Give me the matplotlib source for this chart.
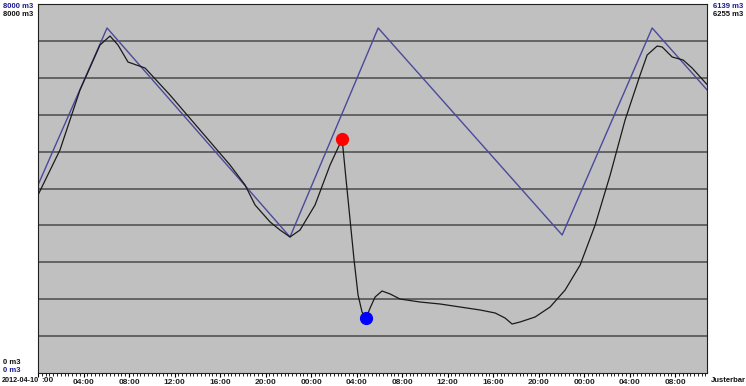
import matplotlib
matplotlib.use("Agg")
import matplotlib.pyplot as plt
import numpy as np

# ---- data (hours since 2012-04-10 00:00, values in m3) ----
blue_hours = [0, 6.07, 22.15, 29.9, 46.07, 53.98, 58.8]
blue_values = [4076, 7480, 2949, 7480, 2992, 7480, 6139]

black_hours = [0, 1.93, 3.69, 5.45, 6.33, 7.03, 7.91, 9.41, 11.6, 14.24, 16.88, 18.2,
               19.08, 20.4, 21.27, 22.15, 23.03, 24.35, 25.67, 26.73, 27.08, 27.43,
               27.78, 28.13, 28.48, 28.84, 29.19, 29.63, 30.24, 30.95, 31.82, 33.58,
               35.34, 37.1, 38.86, 40.18, 41.05, 41.67, 42.37, 43.69, 45.01, 46.33,
               47.65, 48.97, 50.29, 51.6, 52.92, 53.54, 54.42, 54.86, 55.74, 56.7,
               57.49, 58.8]
black_values = [3859, 4835, 6135, 7111, 7306, 7111, 6742, 6612, 6027, 5268, 4509, 4076,
                3642, 3274, 3100, 2949, 3100, 3642, 4509, 5073, 4184, 3317,
                2450, 1691, 1322, 1192, 1409, 1648, 1778, 1713, 1604, 1539,
                1496, 1431, 1366, 1301, 1192, 1062, 1106, 1214, 1431, 1799,
                2341, 3209, 4293, 5485, 6461, 6894, 7089, 7068, 6851, 6786,
                6612, 6255]

max_point = (26.73, 5073)
min_point = (28.84, 1192)

tick_hours = [0, 4, 8, 12, 16, 20, 24, 28, 32, 36, 40, 44, 48, 52, 56]
tick_labels = [":00", "04:00", "08:00", "12:00", "16:00", "20:00", "00:00", "04:00",
               "08:00", "12:00", "16:00", "20:00", "00:00", "04:00", "08:00"]

y_max = 8000
x_max = 58.8

BLUE = "#4a4a9c"
TXT_BLUE = "#1c1c8c"
FONT = ["Liberation Sans", "DejaVu Sans"]

fig = plt.figure(figsize=(7.46, 3.86), dpi=100)
fig.patch.set_facecolor("white")
ax = fig.add_axes([38 / 746, 13 / 386, (707 - 38) / 746, (373 - 4) / 386])
ax.set_facecolor("#c0c0c0")

ax.set_xlim(0, x_max)
ax.set_ylim(0, y_max)

for v in np.arange(800, y_max, 800):
    ax.axhline(v, color="#4a4a4a", lw=1.1, zorder=1)

ax.plot(blue_hours, blue_values, color=BLUE, lw=1.0, zorder=2)
ax.plot(black_hours, black_values, color="#1a1a1a", lw=0.9, zorder=3)
ax.plot([max_point[0]], [max_point[1]], "o", color="#ff0000", ms=8.5, zorder=4)
ax.plot([min_point[0]], [min_point[1]], "o", color="#0000ff", ms=8.5, zorder=4)

ax.set_xticks(tick_hours)
ax.set_xticklabels([""] + tick_labels[1:], fontsize=6, fontweight="bold",
                   color="#202020", family=FONT)
ax.set_xticks(np.arange(0, x_max, 1 / 3), minor=True)
ax.tick_params(axis="x", which="major", length=3, width=0.8, pad=1, direction="out")
ax.tick_params(axis="x", which="minor", length=2, width=0.6, direction="out")
ax.set_yticks([])
for s in ax.spines.values():
    s.set_color("#202020")
    s.set_linewidth(0.8)

def ftxt(px, py, s, color="#101010", ha="left", size=5.5):
    fig.text(px / 746, 1 - py / 386, s, fontsize=size, fontweight="bold",
             color=color, ha=ha, va="center", family=FONT, zorder=5)

ftxt(3, 6, "8000 m3", TXT_BLUE)
ftxt(3, 14, "8000 m3")
ftxt(3, 363, "0 m3")
ftxt(3, 371, "0 m3", TXT_BLUE)
ftxt(713, 6, "6139 m3", TXT_BLUE)
ftxt(713, 14, "6255 m3")
ftxt(711, 381, "Justerbar")
ftxt(2, 381, "2012-04-10", size=5.2)
ftxt(41, 381, tick_labels[0], color="#202020", size=6)

fig.savefig("out.png", dpi=100, facecolor="white")
